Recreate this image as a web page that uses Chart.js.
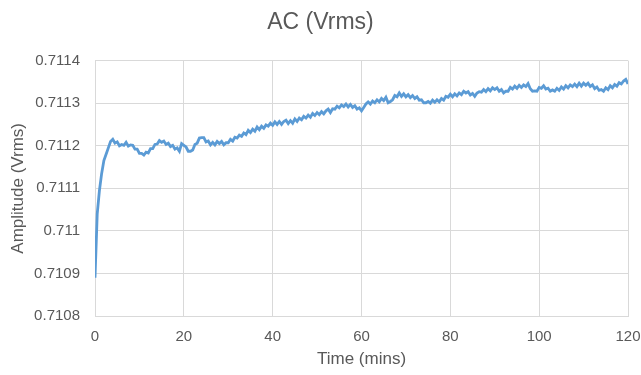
<!DOCTYPE html>
<html>
<head>
<meta charset="utf-8">
<script src="https://cdn.jsdelivr.net/npm/chart.js@4"></script>
<style>
  html, body { margin: 0; padding: 0; background: #fff; }
  #wrap { width: 641px; height: 375px; }
</style>
</head>
<body>
<div id="wrap"><canvas id="chart" width="641" height="375"></canvas></div>
<script>
const TITLE = "AC (Vrms)";
const X_TITLE = "Time (mins)";
const Y_TITLE = "Amplitude (Vrms)";

// sample spacing of the trace, in minutes
const STEP_MINS = 0.5;

// amplitude readings every 0.5 min, 0 .. 120 min
const AMPLITUDE = [
  0.710890, 0.711040, 0.711095, 0.711135, 0.711165, 0.711180, 0.711195, 0.711210, 0.711215, 0.711206,
  0.711209, 0.711200, 0.711203, 0.711201, 0.711208, 0.711199, 0.711202, 0.711201, 0.711192, 0.711192,
  0.711182, 0.711182, 0.711178, 0.711185, 0.711183, 0.711193, 0.711193, 0.711203, 0.711204, 0.711212,
  0.711208, 0.711211, 0.711203, 0.711206, 0.711198, 0.711201, 0.711192, 0.711195, 0.711187, 0.711205,
  0.711201, 0.711197, 0.711187, 0.711187, 0.711190, 0.711203, 0.711206, 0.711218, 0.711219, 0.711219,
  0.711209, 0.711211, 0.711202, 0.711208, 0.711202, 0.711210, 0.711205, 0.711210, 0.711202, 0.711207,
  0.711207, 0.711215, 0.711211, 0.711220, 0.711218, 0.711225, 0.711222, 0.711230, 0.711226, 0.711236,
  0.711231, 0.711239, 0.711234, 0.711244, 0.711238, 0.711246, 0.711241, 0.711249, 0.711246, 0.711253,
  0.711248, 0.711256, 0.711250, 0.711257, 0.711250, 0.711257, 0.711260, 0.711252, 0.711259, 0.711253,
  0.711263, 0.711257, 0.711265, 0.711261, 0.711269, 0.711265, 0.711272, 0.711267, 0.711276, 0.711271,
  0.711278, 0.711273, 0.711280, 0.711275, 0.711282, 0.711286, 0.711278, 0.711287, 0.711286, 0.711293,
  0.711289, 0.711296, 0.711292, 0.711298, 0.711291, 0.711297, 0.711290, 0.711294, 0.711286, 0.711289,
  0.711282, 0.711290, 0.711298, 0.711303, 0.711298, 0.711305, 0.711301, 0.711308, 0.711303, 0.711311,
  0.711306, 0.711314, 0.711301, 0.711304, 0.711308, 0.711318, 0.711315, 0.711324, 0.711316, 0.711322,
  0.711315, 0.711320, 0.711313, 0.711318, 0.711311, 0.711315, 0.711307, 0.711308, 0.711301, 0.711301,
  0.711304, 0.711300, 0.711307, 0.711302, 0.711308, 0.711303, 0.711311, 0.711307, 0.711316, 0.711314,
  0.711321, 0.711315, 0.711322, 0.711317, 0.711324, 0.711320, 0.711328, 0.711324, 0.711327, 0.711319,
  0.711323, 0.711316, 0.711324, 0.711327, 0.711326, 0.711332, 0.711327, 0.711334, 0.711329, 0.711336,
  0.711332, 0.711336, 0.711328, 0.711332, 0.711324, 0.711328, 0.711328, 0.711337, 0.711333, 0.711340,
  0.711335, 0.711342, 0.711337, 0.711343, 0.711339, 0.711346, 0.711334, 0.711328, 0.711329, 0.711328,
  0.711337, 0.711335, 0.711341, 0.711333, 0.711335, 0.711328, 0.711331, 0.711328, 0.711335, 0.711330,
  0.711338, 0.711333, 0.711341, 0.711336, 0.711343, 0.711339, 0.711345, 0.711339, 0.711347, 0.711340,
  0.711347, 0.711342, 0.711347, 0.711339, 0.711343, 0.711334, 0.711338, 0.711330, 0.711332, 0.711328,
  0.711336, 0.711332, 0.711341, 0.711336, 0.711344, 0.711340, 0.711348, 0.711345, 0.711352, 0.711356,
  0.711345
];

const X_MIN = 0, X_MAX = 120, X_STEP = 20;
const Y_MIN = 0.7108, Y_MAX = 0.7114, Y_STEP = 0.0001;

const TEXT = "#595959";
const GRID = "#d9d9d9";
const LINE = "#5b9bd5";
const FONT = "'Liberation Sans', Arial, sans-serif";

const points = AMPLITUDE.map((v, i) => ({ x: i * STEP_MINS, y: v }));

new Chart(document.getElementById("chart"), {
  type: "line",
  data: {
    datasets: [{
      data: points,
      borderColor: LINE,
      borderWidth: 2.8,
      pointRadius: 0,
      tension: 0,
      fill: false
    }]
  },
  options: {
    responsive: false,
    animation: false,
    layout: { padding: { left: 0, right: 0, top: 0, bottom: 0 } },
    plugins: {
      legend: { display: false },
      tooltip: { enabled: false },
      title: {
        display: true,
        text: TITLE,
        color: TEXT,
        font: { family: FONT, size: 23, weight: "normal" },
        padding: { top: 9, bottom: 24 }
      }
    },
    scales: {
      x: {
        type: "linear",
        min: X_MIN, max: X_MAX,
        grid: { color: GRID, lineWidth: 1, drawTicks: false },
        border: { color: GRID, width: 1 },
        ticks: {
          stepSize: X_STEP, color: TEXT, padding: 12,
          font: { family: FONT, size: 15 }, maxRotation: 0
        },
        title: {
          display: true, text: X_TITLE, color: TEXT,
          font: { family: FONT, size: 17 }, padding: { top: 4, bottom: 5 }
        },
        afterFit: s => { s.height = 59; s.paddingRight = 13; }
      },
      y: {
        min: Y_MIN, max: Y_MAX,
        grid: { color: GRID, lineWidth: 1, drawTicks: false },
        border: { color: GRID, width: 1 },
        ticks: {
          stepSize: Y_STEP, color: TEXT, padding: 15,
          font: { family: FONT, size: 15 },
          callback: v => String(Number(v.toFixed(4)))
        },
        title: {
          display: true, text: Y_TITLE, color: TEXT,
          font: { family: FONT, size: 17 }, padding: { top: 8, bottom: 4 }
        },
        afterFit: s => { s.width = 95; }
      }
    }
  }
});
</script>
</body>
</html>
